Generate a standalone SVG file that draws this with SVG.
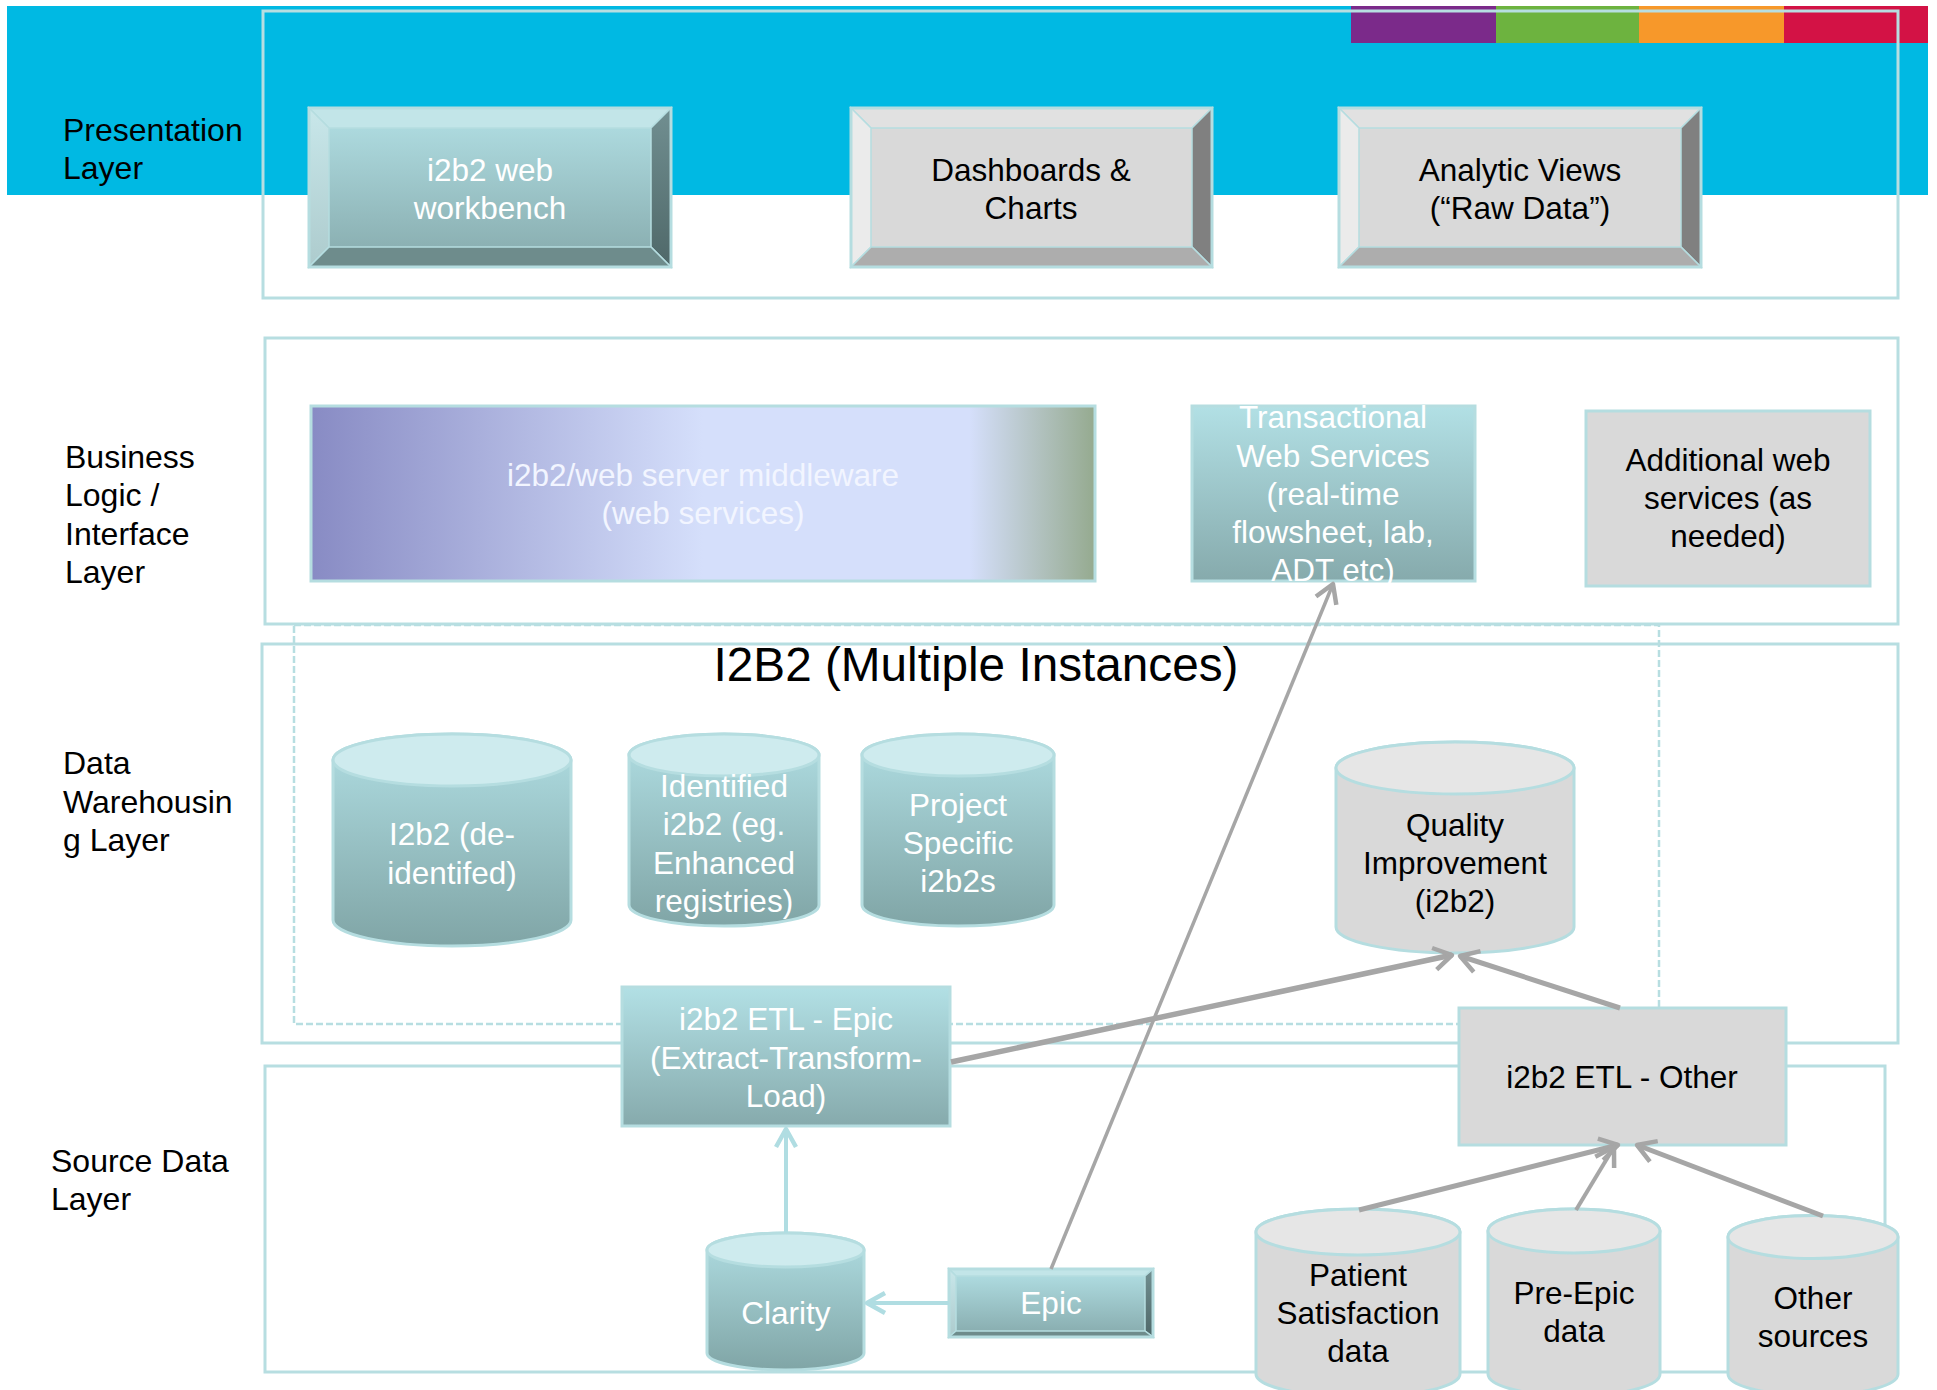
<svg xmlns="http://www.w3.org/2000/svg" width="1937" height="1390" viewBox="0 0 1937 1390">
<defs>
<style>
.frame{fill:none;stroke:#B7DEE1;stroke-width:3}
.dash{fill:none;stroke:#B7DEE1;stroke-width:2.5;stroke-dasharray:7 3}
.lbl{font-family:"Liberation Sans",Arial,sans-serif;font-size:32px;fill:#000}
.t{font-family:"Liberation Sans",Arial,sans-serif;font-size:31.5px;text-anchor:middle}
.w{fill:#FFFFFF}
.k{fill:#000000}
.edge{stroke:#B5DDE0;stroke-width:3}
.thin{stroke:#B5DDE0;stroke-width:1.5}
.gcon{fill:none;stroke:#A6A6A6;stroke-linecap:butt}
.tcon{fill:none;stroke:#B0DDE2;stroke-width:4}
</style>
<linearGradient id="tealV" x1="0" y1="0" x2="0" y2="1">
<stop offset="0" stop-color="#B2E0E5"/><stop offset="1" stop-color="#86AAAC"/>
</linearGradient>
<linearGradient id="tealCyl" x1="0" y1="0" x2="0" y2="1">
<stop offset="0" stop-color="#B0DEE3"/><stop offset="1" stop-color="#80A5A6"/>
</linearGradient>
<linearGradient id="tealRight" x1="0" y1="0" x2="0" y2="1">
<stop offset="0" stop-color="#718F91"/><stop offset="1" stop-color="#4F6869"/>
</linearGradient>
<linearGradient id="tealLeft" x1="0" y1="0" x2="0" y2="1">
<stop offset="0" stop-color="#C8E7EA"/><stop offset="1" stop-color="#ADCBCD"/>
</linearGradient>
<linearGradient id="mw" x1="0" y1="0" x2="1" y2="0">
<stop offset="0" stop-color="#888BC4"/><stop offset="0.5" stop-color="#D5DFFB"/><stop offset="0.84" stop-color="#D5DFFB"/><stop offset="1" stop-color="#95AA8F"/>
</linearGradient>
<marker id="ag" markerUnits="userSpaceOnUse" viewBox="-24 -14 28 28" markerWidth="28" markerHeight="28" refX="0" refY="0" orient="auto">
<path d="M-18,-11 L0,0 L-18,11" fill="none" stroke="#A6A6A6" stroke-width="4.5" stroke-linejoin="round"/>
</marker>
<marker id="at" markerUnits="userSpaceOnUse" viewBox="-24 -14 28 28" markerWidth="28" markerHeight="28" refX="0" refY="0" orient="auto">
<path d="M-18,-10 L0,0 L-18,10" fill="none" stroke="#B0DDE2" stroke-width="4.5" stroke-linejoin="round"/>
</marker>
</defs>

<g id="background">
<rect x="7" y="6" width="1921" height="189" fill="#00B9E3"/>
<rect x="1351" y="6" width="145" height="37" fill="#7B2A8A"/>
<rect x="1496" y="6" width="143" height="37" fill="#6DB33F"/>
<rect x="1639" y="6" width="145" height="37" fill="#F7982A"/>
<rect x="1784" y="6" width="144" height="37" fill="#D31245"/>
</g>

<g id="layers">
<rect class="frame" x="263" y="11" width="1635" height="287"/>
<rect class="frame" x="265" y="338" width="1633" height="286"/>
<rect class="frame" x="262" y="644" width="1636" height="399"/>
<rect class="frame" x="265" y="1066" width="1620" height="306"/>
<rect class="dash" x="294" y="625" width="1365" height="399"/>
<text class="lbl" x="63" y="141">Presentation</text>
<text class="lbl" x="63" y="179">Layer</text>
<text class="lbl" x="65" y="468">Business</text>
<text class="lbl" x="65" y="506">Logic /</text>
<text class="lbl" x="65" y="545">Interface</text>
<text class="lbl" x="65" y="583">Layer</text>
<text class="lbl" x="63" y="774">Data</text>
<text class="lbl" x="63" y="813">Warehousin</text>
<text class="lbl" x="63" y="851">g Layer</text>
<text class="lbl" x="51" y="1172">Source Data</text>
<text class="lbl" x="51" y="1210">Layer</text>
<text x="976" y="681" font-family="Liberation Sans, Arial, sans-serif" font-size="47.7" text-anchor="middle" fill="#000">I2B2 (Multiple Instances)</text>
</g>

<g id="workbench">
<rect x="309" y="108" width="362" height="159" fill="url(#tealV)"/>
<polygon class="thin" points="309,108 671,108 651,128 329,128" fill="#C2E5E8"/>
<polygon class="thin" points="309,108 329,128 329,247 309,267" fill="url(#tealLeft)"/>
<polygon class="thin" points="671,108 671,267 651,247 651,128" fill="url(#tealRight)"/>
<polygon class="thin" points="309,267 329,247 651,247 671,267" fill="#6E8C8C"/>
<rect class="edge" x="309" y="108" width="362" height="159" fill="none"/>
<text class="t w" x="490" y="181">i2b2 web</text>
<text class="t w" x="490" y="219">workbench</text>
</g>

<g id="dashboards">
<rect x="851" y="108" width="361" height="159" fill="#D9D9D9"/>
<polygon class="thin" points="851,108 1212,108 1192,128 871,128" fill="#E1E1E1"/>
<polygon class="thin" points="851,108 871,128 871,247 851,267" fill="#EBEBEB"/>
<polygon class="thin" points="1212,108 1212,267 1192,247 1192,128" fill="#808080"/>
<polygon class="thin" points="851,267 871,247 1192,247 1212,267" fill="#ADADAD"/>
<rect class="edge" x="851" y="108" width="361" height="159" fill="none"/>
<text class="t k" x="1031" y="181">Dashboards &amp;</text>
<text class="t k" x="1031" y="219">Charts</text>
</g>

<g id="analytic">
<rect x="1339" y="108" width="362" height="159" fill="#D9D9D9"/>
<polygon class="thin" points="1339,108 1701,108 1681,128 1359,128" fill="#E1E1E1"/>
<polygon class="thin" points="1339,108 1359,128 1359,247 1339,267" fill="#EBEBEB"/>
<polygon class="thin" points="1701,108 1701,267 1681,247 1681,128" fill="#808080"/>
<polygon class="thin" points="1339,267 1359,247 1681,247 1701,267" fill="#ADADAD"/>
<rect class="edge" x="1339" y="108" width="362" height="159" fill="none"/>
<text class="t k" x="1520" y="181">Analytic Views</text>
<text class="t k" x="1520" y="219">(“Raw Data”)</text>
</g>

<g id="middleware">
<rect class="edge" x="311" y="406" width="784" height="175" fill="url(#mw)"/>
<text class="t" fill="#F2F5FF" x="703" y="486">i2b2/web server middleware</text>
<text class="t" fill="#F2F5FF" x="703" y="524">(web services)</text>
</g>

<g id="transactional">
<rect class="edge" x="1192" y="406" width="283" height="175" fill="url(#tealV)"/>
<text class="t w" x="1333" y="428">Transactional</text>
<text class="t w" x="1333" y="467">Web Services</text>
<text class="t w" x="1333" y="505">(real-time</text>
<text class="t w" x="1333" y="543">flowsheet, lab,</text>
<text class="t w" x="1333" y="581">ADT etc)</text>
</g>

<g id="additional">
<rect class="edge" x="1586" y="411" width="284" height="175" fill="#D9D9D9"/>
<text class="t k" x="1728" y="471">Additional web</text>
<text class="t k" x="1728" y="509">services (as</text>
<text class="t k" x="1728" y="547">needed)</text>
</g>

<g id="i2b2-deid">
<path class="edge" d="M333,760 L333,920 A119,26 0 0 0 571,920 L571,760 A119,26 0 0 0 333,760 Z" fill="url(#tealCyl)"/>
<ellipse class="edge" cx="452" cy="760" rx="119" ry="26" fill="#CEEBEE"/>
<text class="t w" x="452" y="845">I2b2 (de-</text>
<text class="t w" x="452" y="884">identifed)</text>
</g>

<g id="identified">
<path class="edge" d="M629,755 L629,905 A95,21 0 0 0 819,905 L819,755 A95,21 0 0 0 629,755 Z" fill="url(#tealCyl)"/>
<ellipse class="edge" cx="724" cy="755" rx="95" ry="21" fill="#CEEBEE"/>
<text class="t w" x="724" y="797">Identified</text>
<text class="t w" x="724" y="835">i2b2 (eg.</text>
<text class="t w" x="724" y="874">Enhanced</text>
<text class="t w" x="724" y="912">registries)</text>
</g>

<g id="project">
<path class="edge" d="M862,755 L862,905 A96,21 0 0 0 1054,905 L1054,755 A96,21 0 0 0 862,755 Z" fill="url(#tealCyl)"/>
<ellipse class="edge" cx="958" cy="755" rx="96" ry="21" fill="#CEEBEE"/>
<text class="t w" x="958" y="816">Project</text>
<text class="t w" x="958" y="854">Specific</text>
<text class="t w" x="958" y="892">i2b2s</text>
</g>

<g id="quality">
<path class="edge" d="M1336,768 L1336,927 A119,26 0 0 0 1574,927 L1574,768 A119,26 0 0 0 1336,768 Z" fill="#D9D9D9"/>
<ellipse class="edge" cx="1455" cy="768" rx="119" ry="26" fill="#E6E6E6"/>
<text class="t k" x="1455" y="836">Quality</text>
<text class="t k" x="1455" y="874">Improvement</text>
<text class="t k" x="1455" y="912">(i2b2)</text>
</g>

<g id="etl-epic">
<rect class="edge" x="622" y="987" width="328" height="139" fill="url(#tealV)"/>
<text class="t w" x="786" y="1030">i2b2 ETL - Epic</text>
<text class="t w" x="786" y="1069">(Extract-Transform-</text>
<text class="t w" x="786" y="1107">Load)</text>
</g>

<g id="etl-other">
<rect class="edge" x="1459" y="1008" width="327" height="137" fill="#D9D9D9"/>
<text class="t k" x="1622" y="1088">i2b2 ETL - Other</text>
</g>

<g id="clarity">
<path class="edge" d="M707,1250 L707,1353 A78.5,17 0 0 0 864,1353 L864,1250 A78.5,17 0 0 0 707,1250 Z" fill="url(#tealCyl)"/>
<ellipse class="edge" cx="785.5" cy="1250" rx="78.5" ry="17" fill="#CEEBEE"/>
<text class="t w" x="786" y="1324">Clarity</text>
</g>

<g id="epic">
<rect x="949" y="1269" width="204" height="68" fill="url(#tealV)"/>
<polygon class="thin" points="949,1269 1153,1269 1145,1276 956,1276" fill="#C2E5E8"/>
<polygon class="thin" points="949,1269 956,1276 956,1331 949,1337" fill="url(#tealLeft)"/>
<polygon class="thin" points="1153,1269 1153,1337 1145,1331 1145,1276" fill="url(#tealRight)"/>
<polygon class="thin" points="949,1337 956,1331 1145,1331 1153,1337" fill="#6E8C8C"/>
<rect class="edge" x="949" y="1269" width="204" height="68" fill="none"/>
<text class="t w" x="1051" y="1314">Epic</text>
</g>

<g id="patient-sat">
<path class="edge" d="M1256,1232 L1256,1374 A102,23 0 0 0 1460,1374 L1460,1232 A102,23 0 0 0 1256,1232 Z" fill="#D9D9D9"/>
<ellipse class="edge" cx="1358" cy="1232" rx="102" ry="23" fill="#E6E6E6"/>
<text class="t k" x="1358" y="1286">Patient</text>
<text class="t k" x="1358" y="1324">Satisfaction</text>
<text class="t k" x="1358" y="1362">data</text>
</g>

<g id="pre-epic">
<path class="edge" d="M1488,1231 L1488,1374 A86,22 0 0 0 1660,1374 L1660,1231 A86,22 0 0 0 1488,1231 Z" fill="#D9D9D9"/>
<ellipse class="edge" cx="1574" cy="1231" rx="86" ry="22" fill="#E6E6E6"/>
<text class="t k" x="1574" y="1304">Pre-Epic</text>
<text class="t k" x="1574" y="1342">data</text>
</g>

<g id="other-sources">
<path class="edge" d="M1728,1237 L1728,1374 A85,21.5 0 0 0 1898,1374 L1898,1237 A85,21.5 0 0 0 1728,1237 Z" fill="#D9D9D9"/>
<ellipse class="edge" cx="1813" cy="1237" rx="85" ry="21.5" fill="#E6E6E6"/>
<text class="t k" x="1813" y="1309">Other</text>
<text class="t k" x="1813" y="1347">sources</text>
</g>

<g id="connectors">
<path class="gcon" stroke-width="3.5" d="M1051,1269 L1333,584" marker-end="url(#ag)"/>
<path class="gcon" stroke-width="5.5" d="M951,1062 L1452,955" marker-end="url(#ag)"/>
<path class="gcon" stroke-width="5" d="M1620,1008 L1460,956" marker-end="url(#ag)"/>
<path class="gcon" stroke-width="5" d="M1359,1210 L1618,1145" marker-end="url(#ag)"/>
<path class="gcon" stroke-width="4" d="M1576,1210 L1614,1147" marker-end="url(#ag)"/>
<path class="gcon" stroke-width="5" d="M1823,1216 L1637,1145" marker-end="url(#ag)"/>
<path class="tcon" d="M786,1233 L786,1129" marker-end="url(#at)"/>
<path class="tcon" d="M949,1303 L867,1303" marker-end="url(#at)"/>
</g>
</svg>
